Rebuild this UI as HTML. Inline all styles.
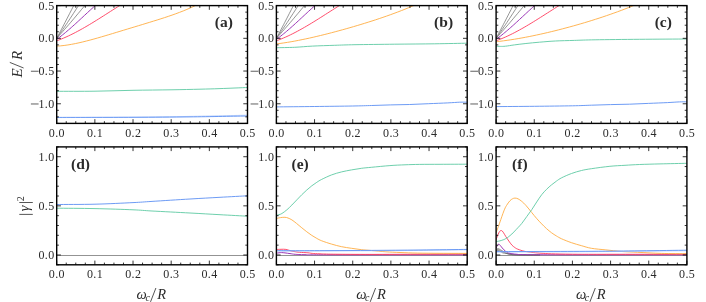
<!DOCTYPE html>
<html><head><meta charset="utf-8"><title>figure</title>
<style>html,body{margin:0;padding:0;background:#fff;}body{width:706px;height:302px;overflow:hidden;font-family:"Liberation Serif",serif;}svg{display:block;will-change:transform;opacity:0.999}svg text{font-family:"Liberation Serif",serif;}</style>
</head><body>
<svg width="706" height="302" viewBox="0 0 706 302">
<defs>
<clipPath id="c10"><rect x="56.7" y="5.6" width="190.8" height="117.80000000000001"/></clipPath>
<clipPath id="c20"><rect x="56.7" y="146.9" width="190.8" height="117.9"/></clipPath>
<clipPath id="c11"><rect x="276.4" y="5.6" width="190.8" height="117.80000000000001"/></clipPath>
<clipPath id="c21"><rect x="276.4" y="146.9" width="190.8" height="117.9"/></clipPath>
<clipPath id="c12"><rect x="496.1" y="5.6" width="190.8" height="117.80000000000001"/></clipPath>
<clipPath id="c22"><rect x="496.1" y="146.9" width="190.8" height="117.9"/></clipPath>
</defs>
<rect width="706" height="302" fill="#fff"/>
<path d="M56.70,38.40 C58.08,35.75 62.17,27.97 65.00,22.50 C67.83,17.03 71.53,9.82 73.70,5.60 C75.88,1.37 77.33,-1.44 78.05,-2.85" fill="none" stroke="#686868" stroke-width="0.7" clip-path="url(#c10)"/>
<path d="M56.70,38.40 C58.50,35.75 63.87,27.97 67.50,22.50 C71.13,17.03 75.75,9.82 78.50,5.60 C81.25,1.37 83.08,-1.44 84.00,-2.85" fill="none" stroke="#686868" stroke-width="0.7" clip-path="url(#c10)"/>
<path d="M56.70,38.40 C59.00,35.77 65.82,28.07 70.50,22.60 C75.18,17.13 81.22,9.85 84.80,5.60 C88.38,1.35 90.76,-1.48 91.95,-2.90" fill="none" stroke="#686868" stroke-width="0.7" clip-path="url(#c10)"/>
<path d="M56.70,46.15 C57.32,46.10 59.18,45.98 60.42,45.87 C61.66,45.76 62.90,45.62 64.14,45.47 C65.38,45.31 66.62,45.13 67.86,44.94 C69.10,44.75 70.34,44.54 71.58,44.32 C72.82,44.09 74.06,43.85 75.30,43.60 C76.54,43.35 77.78,43.08 79.02,42.80 C80.26,42.53 81.50,42.24 82.74,41.94 C83.98,41.64 85.22,41.33 86.46,41.01 C87.70,40.70 88.94,40.37 90.18,40.04 C91.42,39.71 92.66,39.37 93.91,39.02 C95.15,38.68 96.39,38.33 97.63,37.97 C98.87,37.62 100.11,37.26 101.35,36.90 C102.59,36.54 103.83,36.17 105.07,35.80 C106.31,35.44 107.55,35.07 108.79,34.69 C110.03,34.32 111.27,33.95 112.51,33.57 C113.75,33.20 114.99,32.82 116.23,32.45 C117.47,32.07 118.71,31.69 119.95,31.32 C121.19,30.94 122.43,30.56 123.67,30.19 C124.91,29.81 126.15,29.43 127.39,29.06 C128.63,28.68 129.87,28.31 131.11,27.93 C132.35,27.55 133.59,27.18 134.83,26.80 C136.07,26.43 137.31,26.05 138.55,25.68 C139.79,25.30 141.03,24.93 142.27,24.55 C143.51,24.18 144.75,23.80 145.99,23.42 C147.23,23.05 148.47,22.67 149.71,22.29 C150.95,21.91 152.19,21.53 153.43,21.14 C154.67,20.76 155.91,20.37 157.15,19.99 C158.39,19.60 159.63,19.20 160.87,18.81 C162.11,18.41 163.35,18.01 164.59,17.61 C165.84,17.20 167.08,16.79 168.32,16.37 C169.56,15.95 170.80,15.53 172.04,15.10 C173.28,14.66 174.52,14.22 175.76,13.77 C177.00,13.32 178.24,12.86 179.48,12.39 C180.72,11.92 181.96,11.44 183.20,10.95 C184.44,10.45 185.68,9.94 186.92,9.42 C188.16,8.90 189.40,8.36 190.64,7.81 C191.88,7.25 193.12,6.68 194.36,6.09 C195.60,5.50 196.84,4.89 198.08,4.26 C199.32,3.63 201.18,2.63 201.80,2.30" fill="none" stroke="#ffad42" stroke-width="0.9" clip-path="url(#c10)"/>
<path d="M56.70,40.79 C57.09,40.65 58.26,40.22 59.03,39.93 C59.81,39.63 60.59,39.33 61.37,39.01 C62.15,38.70 62.93,38.37 63.70,38.04 C64.48,37.71 65.26,37.37 66.04,37.02 C66.82,36.68 67.59,36.32 68.37,35.96 C69.15,35.59 69.93,35.22 70.71,34.84 C71.49,34.47 72.26,34.08 73.04,33.69 C73.82,33.30 74.60,32.90 75.38,32.49 C76.15,32.09 76.93,31.68 77.71,31.26 C78.49,30.84 79.27,30.42 80.04,29.99 C80.82,29.57 81.60,29.13 82.38,28.69 C83.16,28.26 83.94,27.81 84.71,27.36 C85.49,26.92 86.27,26.46 87.05,26.01 C87.83,25.55 88.60,25.09 89.38,24.62 C90.16,24.16 90.94,23.69 91.72,23.22 C92.50,22.75 93.27,22.27 94.05,21.79 C94.83,21.31 95.61,20.83 96.39,20.35 C97.16,19.87 97.94,19.38 98.72,18.89 C99.50,18.40 100.28,17.91 101.06,17.42 C101.83,16.93 102.61,16.44 103.39,15.94 C104.17,15.45 104.95,14.95 105.72,14.45 C106.50,13.96 107.28,13.46 108.06,12.96 C108.84,12.46 109.61,11.97 110.39,11.47 C111.17,10.97 111.95,10.47 112.73,9.97 C113.51,9.48 114.28,8.98 115.06,8.48 C115.84,7.99 116.62,7.49 117.40,7.00 C118.17,6.50 118.95,6.01 119.73,5.52 C120.51,5.03 121.29,4.54 122.07,4.05 C122.84,3.56 124.01,2.83 124.40,2.59" fill="none" stroke="#ff3b5c" stroke-width="0.9" clip-path="url(#c10)"/>
<path d="M56.70,39.33 C56.94,39.15 57.68,38.62 58.17,38.26 C58.65,37.90 59.14,37.54 59.63,37.17 C60.12,36.79 60.61,36.42 61.10,36.04 C61.59,35.66 62.07,35.27 62.56,34.88 C63.05,34.49 63.54,34.10 64.03,33.70 C64.52,33.30 65.00,32.90 65.49,32.49 C65.98,32.09 66.47,31.68 66.96,31.26 C67.45,30.85 67.94,30.43 68.42,30.01 C68.91,29.59 69.40,29.17 69.89,28.74 C70.38,28.31 70.87,27.88 71.36,27.45 C71.84,27.02 72.33,26.58 72.82,26.15 C73.31,25.71 73.80,25.27 74.29,24.83 C74.77,24.39 75.26,23.94 75.75,23.50 C76.24,23.05 76.73,22.61 77.22,22.16 C77.71,21.71 78.19,21.26 78.68,20.81 C79.17,20.36 79.66,19.91 80.15,19.46 C80.64,19.00 81.13,18.55 81.61,18.10 C82.10,17.64 82.59,17.19 83.08,16.73 C83.57,16.28 84.06,15.83 84.54,15.37 C85.03,14.92 85.52,14.46 86.01,14.01 C86.50,13.56 86.99,13.10 87.48,12.65 C87.96,12.20 88.45,11.75 88.94,11.29 C89.43,10.84 89.92,10.39 90.41,9.95 C90.90,9.50 91.38,9.05 91.87,8.61 C92.36,8.16 92.85,7.72 93.34,7.28 C93.83,6.83 94.31,6.39 94.80,5.96 C95.29,5.52 95.78,5.09 96.27,4.65 C96.76,4.22 97.25,3.79 97.73,3.36 C98.22,2.94 98.96,2.31 99.20,2.09" fill="none" stroke="#9a35b5" stroke-width="1.0" clip-path="url(#c10)"/>
<path d="M276.40,38.40 C277.78,35.75 281.87,27.97 284.70,22.50 C287.53,17.03 291.22,9.82 293.40,5.60 C295.57,1.37 297.02,-1.44 297.75,-2.85" fill="none" stroke="#686868" stroke-width="0.7" clip-path="url(#c11)"/>
<path d="M276.40,38.40 C278.20,35.75 283.57,27.97 287.20,22.50 C290.83,17.03 295.45,9.82 298.20,5.60 C300.95,1.37 302.78,-1.44 303.70,-2.85" fill="none" stroke="#686868" stroke-width="0.7" clip-path="url(#c11)"/>
<path d="M276.40,38.40 C278.70,35.77 285.52,28.07 290.20,22.60 C294.88,17.13 300.93,9.85 304.50,5.60 C308.07,1.35 310.46,-1.48 311.65,-2.90" fill="none" stroke="#686868" stroke-width="0.7" clip-path="url(#c11)"/>
<path d="M276.40,43.93 C277.01,43.85 278.85,43.62 280.07,43.46 C281.30,43.29 282.52,43.11 283.75,42.93 C284.97,42.75 286.20,42.56 287.42,42.36 C288.65,42.16 289.87,41.95 291.10,41.74 C292.32,41.52 293.55,41.30 294.77,41.08 C296.00,40.85 297.22,40.62 298.45,40.38 C299.67,40.14 300.90,39.89 302.12,39.64 C303.35,39.39 304.57,39.14 305.79,38.88 C307.02,38.61 308.24,38.35 309.47,38.08 C310.69,37.80 311.92,37.53 313.14,37.25 C314.37,36.97 315.59,36.68 316.82,36.39 C318.04,36.10 319.27,35.81 320.49,35.51 C321.72,35.21 322.94,34.91 324.17,34.61 C325.39,34.30 326.62,33.99 327.84,33.68 C329.07,33.37 330.29,33.05 331.52,32.73 C332.74,32.41 333.96,32.09 335.19,31.76 C336.41,31.44 337.64,31.11 338.86,30.77 C340.09,30.44 341.31,30.10 342.54,29.76 C343.76,29.43 344.99,29.08 346.21,28.74 C347.44,28.39 348.66,28.04 349.89,27.69 C351.11,27.34 352.34,26.98 353.56,26.63 C354.79,26.27 356.01,25.91 357.24,25.54 C358.46,25.18 359.69,24.81 360.91,24.44 C362.14,24.07 363.36,23.69 364.58,23.31 C365.81,22.93 367.03,22.55 368.26,22.17 C369.48,21.78 370.71,21.39 371.93,21.00 C373.16,20.60 374.38,20.21 375.61,19.80 C376.83,19.40 378.06,19.00 379.28,18.59 C380.51,18.18 381.73,17.76 382.96,17.34 C384.18,16.92 385.41,16.50 386.63,16.07 C387.86,15.64 389.08,15.20 390.31,14.76 C391.53,14.32 392.75,13.87 393.98,13.42 C395.20,12.97 396.43,12.51 397.65,12.05 C398.88,11.58 400.10,11.11 401.33,10.63 C402.55,10.15 403.78,9.67 405.00,9.18 C406.23,8.68 407.45,8.18 408.68,7.67 C409.90,7.17 411.13,6.65 412.35,6.13 C413.58,5.60 414.80,5.07 416.03,4.53 C417.25,3.98 419.09,3.14 419.70,2.87" fill="none" stroke="#ffad42" stroke-width="0.9" clip-path="url(#c11)"/>
<path d="M276.40,40.79 C276.79,40.65 277.96,40.22 278.73,39.93 C279.51,39.63 280.29,39.33 281.07,39.01 C281.85,38.70 282.63,38.37 283.40,38.04 C284.18,37.71 284.96,37.37 285.74,37.02 C286.52,36.68 287.29,36.32 288.07,35.96 C288.85,35.59 289.63,35.22 290.41,34.84 C291.19,34.47 291.96,34.08 292.74,33.69 C293.52,33.30 294.30,32.90 295.08,32.49 C295.85,32.09 296.63,31.68 297.41,31.26 C298.19,30.84 298.97,30.42 299.74,29.99 C300.52,29.57 301.30,29.13 302.08,28.69 C302.86,28.26 303.64,27.81 304.41,27.36 C305.19,26.92 305.97,26.46 306.75,26.01 C307.53,25.55 308.30,25.09 309.08,24.62 C309.86,24.16 310.64,23.69 311.42,23.22 C312.20,22.75 312.97,22.27 313.75,21.79 C314.53,21.31 315.31,20.83 316.09,20.35 C316.86,19.87 317.64,19.38 318.42,18.89 C319.20,18.40 319.98,17.91 320.76,17.42 C321.53,16.93 322.31,16.44 323.09,15.94 C323.87,15.45 324.65,14.95 325.42,14.45 C326.20,13.96 326.98,13.46 327.76,12.96 C328.54,12.46 329.31,11.97 330.09,11.47 C330.87,10.97 331.65,10.47 332.43,9.97 C333.21,9.48 333.98,8.98 334.76,8.48 C335.54,7.99 336.32,7.49 337.10,7.00 C337.87,6.50 338.65,6.01 339.43,5.52 C340.21,5.03 340.99,4.54 341.77,4.05 C342.54,3.56 343.71,2.83 344.10,2.59" fill="none" stroke="#ff3b5c" stroke-width="0.9" clip-path="url(#c11)"/>
<path d="M276.40,39.33 C276.64,39.15 277.38,38.62 277.87,38.26 C278.35,37.90 278.84,37.54 279.33,37.17 C279.82,36.79 280.31,36.42 280.80,36.04 C281.29,35.66 281.77,35.27 282.26,34.88 C282.75,34.49 283.24,34.10 283.73,33.70 C284.22,33.30 284.70,32.90 285.19,32.49 C285.68,32.09 286.17,31.68 286.66,31.26 C287.15,30.85 287.64,30.43 288.12,30.01 C288.61,29.59 289.10,29.17 289.59,28.74 C290.08,28.31 290.57,27.88 291.06,27.45 C291.54,27.02 292.03,26.58 292.52,26.15 C293.01,25.71 293.50,25.27 293.99,24.83 C294.47,24.39 294.96,23.94 295.45,23.50 C295.94,23.05 296.43,22.61 296.92,22.16 C297.41,21.71 297.89,21.26 298.38,20.81 C298.87,20.36 299.36,19.91 299.85,19.46 C300.34,19.00 300.83,18.55 301.31,18.10 C301.80,17.64 302.29,17.19 302.78,16.73 C303.27,16.28 303.76,15.83 304.24,15.37 C304.73,14.92 305.22,14.46 305.71,14.01 C306.20,13.56 306.69,13.10 307.18,12.65 C307.66,12.20 308.15,11.75 308.64,11.29 C309.13,10.84 309.62,10.39 310.11,9.95 C310.60,9.50 311.08,9.05 311.57,8.61 C312.06,8.16 312.55,7.72 313.04,7.28 C313.53,6.83 314.01,6.39 314.50,5.96 C314.99,5.52 315.48,5.09 315.97,4.65 C316.46,4.22 316.95,3.79 317.43,3.36 C317.92,2.94 318.66,2.31 318.90,2.09" fill="none" stroke="#9a35b5" stroke-width="1.0" clip-path="url(#c11)"/>
<path d="M496.10,38.40 C497.48,35.75 501.57,27.97 504.40,22.50 C507.23,17.03 510.93,9.82 513.10,5.60 C515.27,1.37 516.73,-1.44 517.45,-2.85" fill="none" stroke="#686868" stroke-width="0.7" clip-path="url(#c12)"/>
<path d="M496.10,38.40 C497.90,35.75 503.27,27.97 506.90,22.50 C510.53,17.03 515.15,9.82 517.90,5.60 C520.65,1.37 522.48,-1.44 523.40,-2.85" fill="none" stroke="#686868" stroke-width="0.7" clip-path="url(#c12)"/>
<path d="M496.10,38.40 C498.40,35.77 505.22,28.07 509.90,22.60 C514.58,17.13 520.62,9.85 524.20,5.60 C527.78,1.35 530.16,-1.48 531.35,-2.90" fill="none" stroke="#686868" stroke-width="0.7" clip-path="url(#c12)"/>
<path d="M496.10,41.71 C496.71,41.64 498.55,41.44 499.78,41.30 C501.01,41.15 502.23,41.00 503.46,40.84 C504.69,40.68 505.91,40.51 507.14,40.33 C508.36,40.16 509.59,39.98 510.82,39.79 C512.04,39.60 513.27,39.41 514.50,39.21 C515.72,39.01 516.95,38.81 518.18,38.60 C519.40,38.38 520.63,38.17 521.86,37.95 C523.08,37.72 524.31,37.49 525.54,37.26 C526.76,37.03 527.99,36.79 529.22,36.55 C530.44,36.30 531.67,36.06 532.89,35.80 C534.12,35.55 535.35,35.29 536.57,35.03 C537.80,34.77 539.03,34.50 540.25,34.23 C541.48,33.96 542.71,33.68 543.93,33.40 C545.16,33.12 546.39,32.84 547.61,32.55 C548.84,32.26 550.07,31.97 551.29,31.67 C552.52,31.37 553.75,31.07 554.97,30.77 C556.20,30.46 557.42,30.16 558.65,29.84 C559.88,29.53 561.10,29.21 562.33,28.89 C563.56,28.57 564.78,28.25 566.01,27.92 C567.24,27.59 568.46,27.26 569.69,26.93 C570.92,26.59 572.14,26.25 573.37,25.91 C574.60,25.57 575.82,25.22 577.05,24.87 C578.28,24.52 579.50,24.16 580.73,23.81 C581.95,23.45 583.18,23.08 584.41,22.72 C585.63,22.35 586.86,21.98 588.09,21.61 C589.31,21.23 590.54,20.86 591.77,20.47 C592.99,20.09 594.22,19.70 595.45,19.31 C596.67,18.92 597.90,18.53 599.13,18.13 C600.35,17.73 601.58,17.32 602.81,16.91 C604.03,16.50 605.26,16.09 606.48,15.67 C607.71,15.25 608.94,14.83 610.16,14.40 C611.39,13.98 612.62,13.54 613.84,13.10 C615.07,12.67 616.30,12.22 617.52,11.77 C618.75,11.32 619.98,10.87 621.20,10.41 C622.43,9.95 623.66,9.48 624.88,9.01 C626.11,8.54 627.34,8.06 628.56,7.57 C629.79,7.09 631.01,6.60 632.24,6.10 C633.47,5.60 634.69,5.10 635.92,4.59 C637.15,4.08 638.99,3.29 639.60,3.03" fill="none" stroke="#ffad42" stroke-width="0.9" clip-path="url(#c12)"/>
<path d="M496.10,40.79 C496.49,40.65 497.66,40.22 498.43,39.93 C499.21,39.63 499.99,39.33 500.77,39.01 C501.55,38.70 502.33,38.37 503.10,38.04 C503.88,37.71 504.66,37.37 505.44,37.02 C506.22,36.68 506.99,36.32 507.77,35.96 C508.55,35.59 509.33,35.22 510.11,34.84 C510.89,34.47 511.66,34.08 512.44,33.69 C513.22,33.30 514.00,32.90 514.78,32.49 C515.55,32.09 516.33,31.68 517.11,31.26 C517.89,30.84 518.67,30.42 519.44,29.99 C520.22,29.57 521.00,29.13 521.78,28.69 C522.56,28.26 523.34,27.81 524.11,27.36 C524.89,26.92 525.67,26.46 526.45,26.01 C527.23,25.55 528.00,25.09 528.78,24.62 C529.56,24.16 530.34,23.69 531.12,23.22 C531.90,22.75 532.67,22.27 533.45,21.79 C534.23,21.31 535.01,20.83 535.79,20.35 C536.56,19.87 537.34,19.38 538.12,18.89 C538.90,18.40 539.68,17.91 540.46,17.42 C541.23,16.93 542.01,16.44 542.79,15.94 C543.57,15.45 544.35,14.95 545.12,14.45 C545.90,13.96 546.68,13.46 547.46,12.96 C548.24,12.46 549.01,11.97 549.79,11.47 C550.57,10.97 551.35,10.47 552.13,9.97 C552.91,9.48 553.68,8.98 554.46,8.48 C555.24,7.99 556.02,7.49 556.80,7.00 C557.57,6.50 558.35,6.01 559.13,5.52 C559.91,5.03 560.69,4.54 561.47,4.05 C562.24,3.56 563.41,2.83 563.80,2.59" fill="none" stroke="#ff3b5c" stroke-width="0.9" clip-path="url(#c12)"/>
<path d="M496.10,39.33 C496.34,39.15 497.08,38.62 497.57,38.26 C498.05,37.90 498.54,37.54 499.03,37.17 C499.52,36.79 500.01,36.42 500.50,36.04 C500.99,35.66 501.47,35.27 501.96,34.88 C502.45,34.49 502.94,34.10 503.43,33.70 C503.92,33.30 504.40,32.90 504.89,32.49 C505.38,32.09 505.87,31.68 506.36,31.26 C506.85,30.85 507.34,30.43 507.82,30.01 C508.31,29.59 508.80,29.17 509.29,28.74 C509.78,28.31 510.27,27.88 510.76,27.45 C511.24,27.02 511.73,26.58 512.22,26.15 C512.71,25.71 513.20,25.27 513.69,24.83 C514.17,24.39 514.66,23.94 515.15,23.50 C515.64,23.05 516.13,22.61 516.62,22.16 C517.11,21.71 517.59,21.26 518.08,20.81 C518.57,20.36 519.06,19.91 519.55,19.46 C520.04,19.00 520.53,18.55 521.01,18.10 C521.50,17.64 521.99,17.19 522.48,16.73 C522.97,16.28 523.46,15.83 523.94,15.37 C524.43,14.92 524.92,14.46 525.41,14.01 C525.90,13.56 526.39,13.10 526.88,12.65 C527.36,12.20 527.85,11.75 528.34,11.29 C528.83,10.84 529.32,10.39 529.81,9.95 C530.30,9.50 530.78,9.05 531.27,8.61 C531.76,8.16 532.25,7.72 532.74,7.28 C533.23,6.83 533.71,6.39 534.20,5.96 C534.69,5.52 535.18,5.09 535.67,4.65 C536.16,4.22 536.65,3.79 537.13,3.36 C537.62,2.94 538.36,2.31 538.60,2.09" fill="none" stroke="#9a35b5" stroke-width="1.0" clip-path="url(#c12)"/>
<path d="M56.70,91.30 C63.08,91.28 82.28,91.37 95.00,91.20 C107.72,91.03 120.33,90.53 133.00,90.30 C145.67,90.07 159.83,89.98 171.00,89.80 C182.17,89.62 191.83,89.40 200.00,89.20 C208.17,89.00 212.08,88.88 220.00,88.60 C227.92,88.32 242.92,87.68 247.50,87.50" fill="none" stroke="#5ec9a3" stroke-width="0.9" clip-path="url(#c10)"/>
<path d="M56.70,117.60 C69.42,117.53 110.78,117.40 133.00,117.20 C155.22,117.00 170.92,116.73 190.00,116.40 C209.08,116.07 237.92,115.40 247.50,115.20" fill="none" stroke="#b4cdfb" stroke-width="0.9" clip-path="url(#c10)"/>
<path d="M56.70,117.40 C69.42,117.38 110.78,117.38 133.00,117.30 C155.22,117.22 170.92,117.12 190.00,116.90 C209.08,116.68 237.92,116.15 247.50,116.00" fill="none" stroke="#6596f3" stroke-width="0.95" clip-path="url(#c10)"/>
<path d="M276.40,47.70 C279.45,47.63 288.68,47.57 294.70,47.30 C300.72,47.03 305.83,46.43 312.50,46.10 C319.17,45.77 327.62,45.53 334.70,45.30 C341.78,45.07 345.00,44.88 355.00,44.70 C365.00,44.52 381.42,44.35 394.70,44.20 C407.98,44.05 422.62,43.97 434.70,43.80 C446.78,43.63 461.78,43.30 467.20,43.20" fill="none" stroke="#5ec9a3" stroke-width="0.9" clip-path="url(#c11)"/>
<path d="M276.40,106.90 C282.78,106.83 301.98,106.65 314.70,106.50 C327.42,106.35 343.20,106.17 352.70,106.00 C362.20,105.83 365.37,105.68 371.70,105.50 C378.03,105.32 384.37,105.07 390.70,104.90 C397.03,104.73 403.37,104.70 409.70,104.50 C416.03,104.30 422.37,103.97 428.70,103.70 C435.03,103.43 442.53,103.15 447.70,102.90 C452.87,102.65 456.45,102.32 459.70,102.20 C462.95,102.08 465.95,102.20 467.20,102.20" fill="none" stroke="#6596f3" stroke-width="0.95" clip-path="url(#c11)"/>
<path d="M496.10,46.20 C496.82,46.23 498.85,46.40 500.40,46.40 C501.95,46.40 503.07,46.45 505.40,46.20 C507.73,45.95 510.98,45.35 514.40,44.90 C517.82,44.45 521.73,43.95 525.90,43.50 C530.07,43.05 534.50,42.62 539.40,42.20 C544.30,41.78 549.47,41.30 555.30,41.00 C561.13,40.70 567.77,40.60 574.40,40.40 C581.03,40.20 584.27,39.98 595.10,39.80 C605.93,39.62 624.10,39.43 639.40,39.30 C654.70,39.17 678.98,39.05 686.90,39.00" fill="none" stroke="#5ec9a3" stroke-width="0.9" clip-path="url(#c12)"/>
<path d="M496.10,106.60 C502.48,106.55 521.68,106.43 534.40,106.30 C547.12,106.17 562.90,105.98 572.40,105.80 C581.90,105.62 585.07,105.40 591.40,105.20 C597.73,105.00 604.07,104.77 610.40,104.60 C616.73,104.43 623.07,104.40 629.40,104.20 C635.73,104.00 642.07,103.67 648.40,103.40 C654.73,103.13 662.23,102.85 667.40,102.60 C672.57,102.35 676.15,102.03 679.40,101.90 C682.65,101.77 685.65,101.82 686.90,101.80" fill="none" stroke="#6596f3" stroke-width="0.95" clip-path="url(#c12)"/>
<line x1="56.7" x2="247.5" y1="255.5" y2="255.5" stroke="#777" stroke-width="0.8"/>
<line x1="276.4" x2="467.2" y1="255.5" y2="255.5" stroke="#777" stroke-width="0.8"/>
<line x1="496.1" x2="686.9000000000001" y1="255.5" y2="255.5" stroke="#777" stroke-width="0.8"/>
<path d="M56.70,208.20 C63.08,208.27 82.28,208.33 95.00,208.60 C107.72,208.87 123.50,209.40 133.00,209.80 C142.50,210.20 142.50,210.47 152.00,211.00 C161.50,211.53 178.67,212.38 190.00,213.00 C201.33,213.62 210.42,214.17 220.00,214.70 C229.58,215.23 242.92,215.95 247.50,216.20" fill="none" stroke="#5ec9a3" stroke-width="0.9" clip-path="url(#c20)"/>
<path d="M56.70,204.50 C63.08,204.45 82.28,204.52 95.00,204.20 C107.72,203.88 123.50,203.07 133.00,202.60 C142.50,202.13 142.50,202.00 152.00,201.40 C161.50,200.80 178.67,199.68 190.00,199.00 C201.33,198.32 210.42,197.83 220.00,197.30 C229.58,196.77 242.92,196.05 247.50,195.80" fill="none" stroke="#6596f3" stroke-width="0.95" clip-path="url(#c20)"/>
<path d="M276.40,253.20 C276.83,253.13 278.13,252.90 279.00,252.80 C279.87,252.70 280.60,252.58 281.60,252.60 C282.60,252.62 283.60,252.73 285.00,252.90 C286.40,253.07 288.30,253.37 290.00,253.60 C291.70,253.83 292.70,254.12 295.20,254.30 C297.70,254.48 299.20,254.62 305.00,254.70 C310.80,254.78 302.97,254.78 330.00,254.80 C357.03,254.82 444.33,254.80 467.20,254.80" fill="none" stroke="#9a35b5" stroke-width="1.0" clip-path="url(#c21)"/>
<path d="M276.40,249.50 C277.17,249.47 279.42,249.32 281.00,249.30 C282.58,249.28 284.23,249.13 285.90,249.40 C287.57,249.67 289.48,250.52 291.00,250.90 C292.52,251.28 293.58,251.47 295.00,251.70 C296.42,251.93 297.33,252.12 299.50,252.30 C301.67,252.48 305.88,252.62 308.00,252.80 C310.12,252.98 310.20,253.23 312.20,253.40 C314.20,253.57 316.45,253.67 320.00,253.80 C323.55,253.93 325.00,254.10 333.50,254.20 C342.00,254.30 356.58,254.40 371.00,254.40 C385.42,254.40 403.97,254.27 420.00,254.20 C436.03,254.13 459.33,254.03 467.20,254.00" fill="none" stroke="#ff3b5c" stroke-width="0.9" clip-path="url(#c21)"/>
<path d="M276.40,218.50 C277.08,218.35 279.08,217.80 280.50,217.60 C281.92,217.40 283.65,217.23 284.90,217.30 C286.15,217.37 286.83,217.57 288.00,218.00 C289.17,218.43 290.48,219.00 291.90,219.90 C293.32,220.80 294.85,222.08 296.50,223.40 C298.15,224.72 300.08,226.40 301.80,227.80 C303.52,229.20 305.13,230.53 306.80,231.80 C308.47,233.07 310.13,234.30 311.80,235.40 C313.47,236.50 315.15,237.50 316.80,238.40 C318.45,239.30 319.23,239.85 321.70,240.80 C324.17,241.75 328.28,243.12 331.60,244.10 C334.92,245.08 338.28,246.00 341.60,246.70 C344.92,247.40 348.18,247.80 351.50,248.30 C354.82,248.80 358.18,249.33 361.50,249.70 C364.82,250.07 367.33,250.15 371.40,250.50 C375.47,250.85 381.13,251.47 385.90,251.80 C390.67,252.13 394.70,252.28 400.00,252.50 C405.30,252.72 411.03,252.97 417.70,253.10 C424.37,253.23 431.75,253.25 440.00,253.30 C448.25,253.35 462.67,253.38 467.20,253.40" fill="none" stroke="#ffad42" stroke-width="0.9" clip-path="url(#c21)"/>
<path d="M276.40,251.00 C285.33,250.98 309.40,250.97 330.00,250.90 C350.60,250.83 377.13,250.78 400.00,250.60 C422.87,250.42 456.00,249.93 467.20,249.80" fill="none" stroke="#b4cdfb" stroke-width="0.9" clip-path="url(#c21)"/>
<path d="M276.40,250.60 C278.98,250.62 282.97,250.70 291.90,250.70 C300.83,250.70 316.75,250.65 330.00,250.60 C343.25,250.55 356.40,250.50 371.40,250.40 C386.40,250.30 404.03,250.17 420.00,250.00 C435.97,249.83 459.33,249.50 467.20,249.40" fill="none" stroke="#6596f3" stroke-width="0.95" clip-path="url(#c21)"/>
<path d="M276.40,215.30 C276.83,215.20 278.08,215.00 279.00,214.70 C279.92,214.40 280.58,214.32 281.90,213.50 C283.22,212.68 285.23,211.22 286.90,209.80 C288.57,208.38 290.23,206.67 291.90,205.00 C293.57,203.33 295.25,201.52 296.90,199.80 C298.55,198.08 300.15,196.33 301.80,194.70 C303.45,193.07 305.13,191.48 306.80,190.00 C308.47,188.52 310.13,187.08 311.80,185.80 C313.47,184.52 315.15,183.37 316.80,182.30 C318.45,181.23 319.23,180.63 321.70,179.40 C324.17,178.17 328.28,176.15 331.60,174.90 C334.92,173.65 338.28,172.73 341.60,171.90 C344.92,171.07 348.18,170.50 351.50,169.90 C354.82,169.30 358.18,168.73 361.50,168.30 C364.82,167.87 366.67,167.75 371.40,167.30 C376.13,166.85 384.30,166.02 389.90,165.60 C395.50,165.18 400.03,165.00 405.00,164.80 C409.97,164.60 413.87,164.48 419.70,164.40 C425.53,164.32 432.08,164.33 440.00,164.30 C447.92,164.27 462.67,164.22 467.20,164.20" fill="none" stroke="#5ec9a3" stroke-width="0.9" clip-path="url(#c21)"/>
<path d="M496.10,249.20 C496.45,249.10 497.47,248.50 498.20,248.60 C498.93,248.70 499.70,249.37 500.50,249.80 C501.30,250.23 502.08,250.63 503.00,251.20 C503.92,251.77 505.00,252.73 506.00,253.20 C507.00,253.67 508.00,253.78 509.00,254.00 C510.00,254.22 510.17,254.35 512.00,254.50 C513.83,254.65 515.33,254.82 520.00,254.90 C524.67,254.98 536.67,254.98 540.00,255.00" fill="none" stroke="#686868" stroke-width="0.7" clip-path="url(#c22)"/>
<path d="M496.10,250.00 C496.45,249.93 497.47,249.47 498.20,249.60 C498.93,249.73 499.70,250.37 500.50,250.80 C501.30,251.23 502.08,251.80 503.00,252.20 C503.92,252.60 505.00,252.90 506.00,253.20 C507.00,253.50 508.00,253.78 509.00,254.00 C510.00,254.22 510.17,254.35 512.00,254.50 C513.83,254.65 515.33,254.82 520.00,254.90 C524.67,254.98 536.67,254.98 540.00,255.00" fill="none" stroke="#686868" stroke-width="0.7" clip-path="url(#c22)"/>
<path d="M496.10,250.60 C496.45,250.57 497.47,250.23 498.20,250.40 C498.93,250.57 499.70,251.17 500.50,251.60 C501.30,252.03 502.08,252.73 503.00,253.00 C503.92,253.27 505.00,253.03 506.00,253.20 C507.00,253.37 508.00,253.78 509.00,254.00 C510.00,254.22 510.17,254.35 512.00,254.50 C513.83,254.65 515.33,254.82 520.00,254.90 C524.67,254.98 536.67,254.98 540.00,255.00" fill="none" stroke="#686868" stroke-width="0.7" clip-path="url(#c22)"/>
<path d="M496.10,248.00 C496.30,247.60 496.85,246.23 497.30,245.60 C497.75,244.97 498.28,244.20 498.80,244.20 C499.32,244.20 499.82,244.97 500.40,245.60 C500.98,246.23 501.70,247.28 502.30,248.00 C502.90,248.72 503.40,249.30 504.00,249.90 C504.60,250.50 505.15,251.10 505.90,251.60 C506.65,252.10 507.50,252.55 508.50,252.90 C509.50,253.25 510.48,253.47 511.90,253.70 C513.32,253.93 515.02,254.15 517.00,254.30 C518.98,254.45 516.63,254.52 523.80,254.60 C530.97,254.68 532.82,254.77 560.00,254.80 C587.18,254.83 665.75,254.80 686.90,254.80" fill="none" stroke="#9a35b5" stroke-width="1.0" clip-path="url(#c22)"/>
<path d="M496.10,239.70 C496.42,238.83 497.38,235.90 498.00,234.50 C498.62,233.10 499.23,231.97 499.80,231.30 C500.37,230.63 500.83,230.35 501.40,230.50 C501.97,230.65 502.45,231.17 503.20,232.20 C503.95,233.23 504.97,235.23 505.90,236.70 C506.83,238.17 507.80,239.60 508.80,241.00 C509.80,242.40 510.90,244.02 511.90,245.10 C512.90,246.18 513.82,246.82 514.80,247.50 C515.78,248.18 516.10,248.55 517.80,249.20 C519.50,249.85 522.02,250.80 525.00,251.40 C527.98,252.00 532.55,252.47 535.70,252.80 C538.85,253.13 541.25,253.23 543.90,253.40 C546.55,253.57 547.08,253.67 551.60,253.80 C556.12,253.93 562.93,254.12 571.00,254.20 C579.07,254.28 580.68,254.30 600.00,254.30 C619.32,254.30 672.42,254.22 686.90,254.20" fill="none" stroke="#ff3b5c" stroke-width="0.9" clip-path="url(#c22)"/>
<path d="M496.10,232.80 C496.42,231.92 497.35,229.32 498.00,227.50 C498.65,225.68 499.02,224.67 500.00,221.90 C500.98,219.13 502.82,213.63 503.90,210.90 C504.98,208.17 505.50,207.18 506.50,205.50 C507.50,203.82 508.90,201.92 509.90,200.80 C510.90,199.68 511.67,199.25 512.50,198.80 C513.33,198.35 513.98,198.10 514.90,198.10 C515.82,198.10 516.85,198.25 518.00,198.80 C519.15,199.35 520.47,200.28 521.80,201.40 C523.13,202.52 524.33,203.63 526.00,205.50 C527.67,207.37 530.05,210.47 531.80,212.60 C533.55,214.73 534.85,216.42 536.50,218.30 C538.15,220.18 540.03,222.18 541.70,223.90 C543.37,225.62 544.85,227.12 546.50,228.60 C548.15,230.08 549.93,231.57 551.60,232.80 C553.27,234.03 554.83,235.00 556.50,236.00 C558.17,237.00 559.10,237.68 561.60,238.80 C564.10,239.92 568.18,241.55 571.50,242.70 C574.82,243.85 578.18,244.77 581.50,245.70 C584.82,246.63 587.33,247.60 591.40,248.30 C595.47,249.00 600.83,249.37 605.90,249.90 C610.97,250.43 616.50,251.10 621.80,251.50 C627.10,251.90 631.08,251.98 637.70,252.30 C644.32,252.62 653.30,253.17 661.50,253.40 C669.70,253.63 682.67,253.65 686.90,253.70" fill="none" stroke="#ffad42" stroke-width="0.9" clip-path="url(#c22)"/>
<path d="M496.10,252.00 C511.75,251.95 558.20,251.92 590.00,251.70 C621.80,251.48 670.75,250.87 686.90,250.70" fill="none" stroke="#b4cdfb" stroke-width="0.9" clip-path="url(#c22)"/>
<path d="M496.10,251.60 C511.75,251.55 566.02,251.43 590.00,251.30 C613.98,251.17 623.85,250.98 640.00,250.80 C656.15,250.62 679.08,250.30 686.90,250.20" fill="none" stroke="#6596f3" stroke-width="0.95" clip-path="url(#c22)"/>
<path d="M496.10,241.50 C496.50,241.45 497.65,241.37 498.50,241.20 C499.35,241.03 500.30,240.77 501.20,240.50 C502.10,240.23 503.12,239.93 503.90,239.60 C504.68,239.27 505.08,239.00 505.90,238.50 C506.72,238.00 507.80,237.35 508.80,236.60 C509.80,235.85 510.90,234.93 511.90,234.00 C512.90,233.07 513.82,232.03 514.80,231.00 C515.78,229.97 516.63,229.07 517.80,227.80 C518.97,226.53 520.30,225.28 521.80,223.40 C523.30,221.52 525.13,218.80 526.80,216.50 C528.47,214.20 530.15,212.02 531.80,209.60 C533.45,207.18 535.05,204.48 536.70,202.00 C538.35,199.52 540.05,196.82 541.70,194.70 C543.35,192.58 544.95,190.95 546.60,189.30 C548.25,187.65 549.93,186.18 551.60,184.80 C553.27,183.42 554.93,182.17 556.60,181.00 C558.27,179.83 559.12,179.05 561.60,177.80 C564.08,176.55 568.18,174.72 571.50,173.50 C574.82,172.28 578.18,171.30 581.50,170.50 C584.82,169.70 586.67,169.40 591.40,168.70 C596.13,168.00 604.30,166.87 609.90,166.30 C615.50,165.73 620.03,165.60 625.00,165.30 C629.97,165.00 633.87,164.73 639.70,164.50 C645.53,164.27 652.13,164.10 660.00,163.90 C667.87,163.70 682.42,163.40 686.90,163.30" fill="none" stroke="#5ec9a3" stroke-width="0.9" clip-path="url(#c22)"/>
<path d="M56.70,123.4v-4.2M56.70,5.6v4.2M66.24,123.4v-2.2M66.24,5.6v2.2M75.78,123.4v-2.2M75.78,5.6v2.2M85.32,123.4v-2.2M85.32,5.6v2.2M94.86,123.4v-4.2M94.86,5.6v4.2M104.40,123.4v-2.2M104.40,5.6v2.2M113.94,123.4v-2.2M113.94,5.6v2.2M123.48,123.4v-2.2M123.48,5.6v2.2M133.02,123.4v-4.2M133.02,5.6v4.2M142.56,123.4v-2.2M142.56,5.6v2.2M152.10,123.4v-2.2M152.10,5.6v2.2M161.64,123.4v-2.2M161.64,5.6v2.2M171.18,123.4v-4.2M171.18,5.6v4.2M180.72,123.4v-2.2M180.72,5.6v2.2M190.26,123.4v-2.2M190.26,5.6v2.2M199.80,123.4v-2.2M199.80,5.6v2.2M209.34,123.4v-4.2M209.34,5.6v4.2M218.88,123.4v-2.2M218.88,5.6v2.2M228.42,123.4v-2.2M228.42,5.6v2.2M237.96,123.4v-2.2M237.96,5.6v2.2M247.50,123.4v-4.2M247.50,5.6v4.2M56.7,5.60h4.2M247.5,5.60h-4.2M56.7,38.32h4.2M247.5,38.32h-4.2M56.7,71.04h4.2M247.5,71.04h-4.2M56.7,103.77h4.2M247.5,103.77h-4.2M56.7,12.14h2.2M247.5,12.14h-2.2M56.7,18.69h2.2M247.5,18.69h-2.2M56.7,25.23h2.2M247.5,25.23h-2.2M56.7,31.78h2.2M247.5,31.78h-2.2M56.7,44.87h2.2M247.5,44.87h-2.2M56.7,51.41h2.2M247.5,51.41h-2.2M56.7,57.96h2.2M247.5,57.96h-2.2M56.7,64.50h2.2M247.5,64.50h-2.2M56.7,77.59h2.2M247.5,77.59h-2.2M56.7,84.13h2.2M247.5,84.13h-2.2M56.7,90.68h2.2M247.5,90.68h-2.2M56.7,97.22h2.2M247.5,97.22h-2.2M56.7,110.31h2.2M247.5,110.31h-2.2M56.7,116.86h2.2M247.5,116.86h-2.2M56.7,123.40h2.2M247.5,123.40h-2.2" stroke="#000" stroke-width="0.8" fill="none"/>
<rect x="56.7" y="5.6" width="190.8" height="117.80" fill="none" stroke="#000" stroke-width="1.4"/>
<path d="M56.70,264.8v-4.2M56.70,146.9v4.2M66.24,264.8v-2.2M66.24,146.9v2.2M75.78,264.8v-2.2M75.78,146.9v2.2M85.32,264.8v-2.2M85.32,146.9v2.2M94.86,264.8v-4.2M94.86,146.9v4.2M104.40,264.8v-2.2M104.40,146.9v2.2M113.94,264.8v-2.2M113.94,146.9v2.2M123.48,264.8v-2.2M123.48,146.9v2.2M133.02,264.8v-4.2M133.02,146.9v4.2M142.56,264.8v-2.2M142.56,146.9v2.2M152.10,264.8v-2.2M152.10,146.9v2.2M161.64,264.8v-2.2M161.64,146.9v2.2M171.18,264.8v-4.2M171.18,146.9v4.2M180.72,264.8v-2.2M180.72,146.9v2.2M190.26,264.8v-2.2M190.26,146.9v2.2M199.80,264.8v-2.2M199.80,146.9v2.2M209.34,264.8v-4.2M209.34,146.9v4.2M218.88,264.8v-2.2M218.88,146.9v2.2M228.42,264.8v-2.2M228.42,146.9v2.2M237.96,264.8v-2.2M237.96,146.9v2.2M247.50,264.8v-4.2M247.50,146.9v4.2M56.7,254.98h4.2M247.5,254.98h-4.2M56.7,205.85h4.2M247.5,205.85h-4.2M56.7,156.72h4.2M247.5,156.72h-4.2M56.7,264.80h2.2M247.5,264.80h-2.2M56.7,245.15h2.2M247.5,245.15h-2.2M56.7,235.32h2.2M247.5,235.32h-2.2M56.7,225.50h2.2M247.5,225.50h-2.2M56.7,215.68h2.2M247.5,215.68h-2.2M56.7,196.03h2.2M247.5,196.03h-2.2M56.7,186.20h2.2M247.5,186.20h-2.2M56.7,176.38h2.2M247.5,176.38h-2.2M56.7,166.55h2.2M247.5,166.55h-2.2M56.7,146.90h2.2M247.5,146.90h-2.2" stroke="#000" stroke-width="0.8" fill="none"/>
<rect x="56.7" y="146.9" width="190.8" height="117.90" fill="none" stroke="#000" stroke-width="1.4"/>
<path d="M276.40,123.4v-4.2M276.40,5.6v4.2M285.94,123.4v-2.2M285.94,5.6v2.2M295.48,123.4v-2.2M295.48,5.6v2.2M305.02,123.4v-2.2M305.02,5.6v2.2M314.56,123.4v-4.2M314.56,5.6v4.2M324.10,123.4v-2.2M324.10,5.6v2.2M333.64,123.4v-2.2M333.64,5.6v2.2M343.18,123.4v-2.2M343.18,5.6v2.2M352.72,123.4v-4.2M352.72,5.6v4.2M362.26,123.4v-2.2M362.26,5.6v2.2M371.80,123.4v-2.2M371.80,5.6v2.2M381.34,123.4v-2.2M381.34,5.6v2.2M390.88,123.4v-4.2M390.88,5.6v4.2M400.42,123.4v-2.2M400.42,5.6v2.2M409.96,123.4v-2.2M409.96,5.6v2.2M419.50,123.4v-2.2M419.50,5.6v2.2M429.04,123.4v-4.2M429.04,5.6v4.2M438.58,123.4v-2.2M438.58,5.6v2.2M448.12,123.4v-2.2M448.12,5.6v2.2M457.66,123.4v-2.2M457.66,5.6v2.2M467.20,123.4v-4.2M467.20,5.6v4.2M276.4,5.60h4.2M467.2,5.60h-4.2M276.4,38.32h4.2M467.2,38.32h-4.2M276.4,71.04h4.2M467.2,71.04h-4.2M276.4,103.77h4.2M467.2,103.77h-4.2M276.4,12.14h2.2M467.2,12.14h-2.2M276.4,18.69h2.2M467.2,18.69h-2.2M276.4,25.23h2.2M467.2,25.23h-2.2M276.4,31.78h2.2M467.2,31.78h-2.2M276.4,44.87h2.2M467.2,44.87h-2.2M276.4,51.41h2.2M467.2,51.41h-2.2M276.4,57.96h2.2M467.2,57.96h-2.2M276.4,64.50h2.2M467.2,64.50h-2.2M276.4,77.59h2.2M467.2,77.59h-2.2M276.4,84.13h2.2M467.2,84.13h-2.2M276.4,90.68h2.2M467.2,90.68h-2.2M276.4,97.22h2.2M467.2,97.22h-2.2M276.4,110.31h2.2M467.2,110.31h-2.2M276.4,116.86h2.2M467.2,116.86h-2.2M276.4,123.40h2.2M467.2,123.40h-2.2" stroke="#000" stroke-width="0.8" fill="none"/>
<rect x="276.4" y="5.6" width="190.8" height="117.80" fill="none" stroke="#000" stroke-width="1.4"/>
<path d="M276.40,264.8v-4.2M276.40,146.9v4.2M285.94,264.8v-2.2M285.94,146.9v2.2M295.48,264.8v-2.2M295.48,146.9v2.2M305.02,264.8v-2.2M305.02,146.9v2.2M314.56,264.8v-4.2M314.56,146.9v4.2M324.10,264.8v-2.2M324.10,146.9v2.2M333.64,264.8v-2.2M333.64,146.9v2.2M343.18,264.8v-2.2M343.18,146.9v2.2M352.72,264.8v-4.2M352.72,146.9v4.2M362.26,264.8v-2.2M362.26,146.9v2.2M371.80,264.8v-2.2M371.80,146.9v2.2M381.34,264.8v-2.2M381.34,146.9v2.2M390.88,264.8v-4.2M390.88,146.9v4.2M400.42,264.8v-2.2M400.42,146.9v2.2M409.96,264.8v-2.2M409.96,146.9v2.2M419.50,264.8v-2.2M419.50,146.9v2.2M429.04,264.8v-4.2M429.04,146.9v4.2M438.58,264.8v-2.2M438.58,146.9v2.2M448.12,264.8v-2.2M448.12,146.9v2.2M457.66,264.8v-2.2M457.66,146.9v2.2M467.20,264.8v-4.2M467.20,146.9v4.2M276.4,254.98h4.2M467.2,254.98h-4.2M276.4,205.85h4.2M467.2,205.85h-4.2M276.4,156.72h4.2M467.2,156.72h-4.2M276.4,264.80h2.2M467.2,264.80h-2.2M276.4,245.15h2.2M467.2,245.15h-2.2M276.4,235.32h2.2M467.2,235.32h-2.2M276.4,225.50h2.2M467.2,225.50h-2.2M276.4,215.68h2.2M467.2,215.68h-2.2M276.4,196.03h2.2M467.2,196.03h-2.2M276.4,186.20h2.2M467.2,186.20h-2.2M276.4,176.38h2.2M467.2,176.38h-2.2M276.4,166.55h2.2M467.2,166.55h-2.2M276.4,146.90h2.2M467.2,146.90h-2.2" stroke="#000" stroke-width="0.8" fill="none"/>
<rect x="276.4" y="146.9" width="190.8" height="117.90" fill="none" stroke="#000" stroke-width="1.4"/>
<path d="M496.10,123.4v-4.2M496.10,5.6v4.2M505.64,123.4v-2.2M505.64,5.6v2.2M515.18,123.4v-2.2M515.18,5.6v2.2M524.72,123.4v-2.2M524.72,5.6v2.2M534.26,123.4v-4.2M534.26,5.6v4.2M543.80,123.4v-2.2M543.80,5.6v2.2M553.34,123.4v-2.2M553.34,5.6v2.2M562.88,123.4v-2.2M562.88,5.6v2.2M572.42,123.4v-4.2M572.42,5.6v4.2M581.96,123.4v-2.2M581.96,5.6v2.2M591.50,123.4v-2.2M591.50,5.6v2.2M601.04,123.4v-2.2M601.04,5.6v2.2M610.58,123.4v-4.2M610.58,5.6v4.2M620.12,123.4v-2.2M620.12,5.6v2.2M629.66,123.4v-2.2M629.66,5.6v2.2M639.20,123.4v-2.2M639.20,5.6v2.2M648.74,123.4v-4.2M648.74,5.6v4.2M658.28,123.4v-2.2M658.28,5.6v2.2M667.82,123.4v-2.2M667.82,5.6v2.2M677.36,123.4v-2.2M677.36,5.6v2.2M686.90,123.4v-4.2M686.90,5.6v4.2M496.1,5.60h4.2M686.9000000000001,5.60h-4.2M496.1,38.32h4.2M686.9000000000001,38.32h-4.2M496.1,71.04h4.2M686.9000000000001,71.04h-4.2M496.1,103.77h4.2M686.9000000000001,103.77h-4.2M496.1,12.14h2.2M686.9000000000001,12.14h-2.2M496.1,18.69h2.2M686.9000000000001,18.69h-2.2M496.1,25.23h2.2M686.9000000000001,25.23h-2.2M496.1,31.78h2.2M686.9000000000001,31.78h-2.2M496.1,44.87h2.2M686.9000000000001,44.87h-2.2M496.1,51.41h2.2M686.9000000000001,51.41h-2.2M496.1,57.96h2.2M686.9000000000001,57.96h-2.2M496.1,64.50h2.2M686.9000000000001,64.50h-2.2M496.1,77.59h2.2M686.9000000000001,77.59h-2.2M496.1,84.13h2.2M686.9000000000001,84.13h-2.2M496.1,90.68h2.2M686.9000000000001,90.68h-2.2M496.1,97.22h2.2M686.9000000000001,97.22h-2.2M496.1,110.31h2.2M686.9000000000001,110.31h-2.2M496.1,116.86h2.2M686.9000000000001,116.86h-2.2M496.1,123.40h2.2M686.9000000000001,123.40h-2.2" stroke="#000" stroke-width="0.8" fill="none"/>
<rect x="496.1" y="5.6" width="190.8" height="117.80" fill="none" stroke="#000" stroke-width="1.4"/>
<path d="M496.10,264.8v-4.2M496.10,146.9v4.2M505.64,264.8v-2.2M505.64,146.9v2.2M515.18,264.8v-2.2M515.18,146.9v2.2M524.72,264.8v-2.2M524.72,146.9v2.2M534.26,264.8v-4.2M534.26,146.9v4.2M543.80,264.8v-2.2M543.80,146.9v2.2M553.34,264.8v-2.2M553.34,146.9v2.2M562.88,264.8v-2.2M562.88,146.9v2.2M572.42,264.8v-4.2M572.42,146.9v4.2M581.96,264.8v-2.2M581.96,146.9v2.2M591.50,264.8v-2.2M591.50,146.9v2.2M601.04,264.8v-2.2M601.04,146.9v2.2M610.58,264.8v-4.2M610.58,146.9v4.2M620.12,264.8v-2.2M620.12,146.9v2.2M629.66,264.8v-2.2M629.66,146.9v2.2M639.20,264.8v-2.2M639.20,146.9v2.2M648.74,264.8v-4.2M648.74,146.9v4.2M658.28,264.8v-2.2M658.28,146.9v2.2M667.82,264.8v-2.2M667.82,146.9v2.2M677.36,264.8v-2.2M677.36,146.9v2.2M686.90,264.8v-4.2M686.90,146.9v4.2M496.1,254.98h4.2M686.9000000000001,254.98h-4.2M496.1,205.85h4.2M686.9000000000001,205.85h-4.2M496.1,156.72h4.2M686.9000000000001,156.72h-4.2M496.1,264.80h2.2M686.9000000000001,264.80h-2.2M496.1,245.15h2.2M686.9000000000001,245.15h-2.2M496.1,235.32h2.2M686.9000000000001,235.32h-2.2M496.1,225.50h2.2M686.9000000000001,225.50h-2.2M496.1,215.68h2.2M686.9000000000001,215.68h-2.2M496.1,196.03h2.2M686.9000000000001,196.03h-2.2M496.1,186.20h2.2M686.9000000000001,186.20h-2.2M496.1,176.38h2.2M686.9000000000001,176.38h-2.2M496.1,166.55h2.2M686.9000000000001,166.55h-2.2M496.1,146.90h2.2M686.9000000000001,146.90h-2.2" stroke="#000" stroke-width="0.8" fill="none"/>
<rect x="496.1" y="146.9" width="190.8" height="117.90" fill="none" stroke="#000" stroke-width="1.4"/>
<text x="56.90" y="136.90" font-size="12" text-anchor="middle" fill="#2b2b2b" letter-spacing="0.35">0.0</text>
<text x="56.90" y="278.30" font-size="12" text-anchor="middle" fill="#2b2b2b" letter-spacing="0.35">0.0</text>
<text x="95.06" y="136.90" font-size="12" text-anchor="middle" fill="#2b2b2b" letter-spacing="0.35">0.1</text>
<text x="95.06" y="278.30" font-size="12" text-anchor="middle" fill="#2b2b2b" letter-spacing="0.35">0.1</text>
<text x="133.22" y="136.90" font-size="12" text-anchor="middle" fill="#2b2b2b" letter-spacing="0.35">0.2</text>
<text x="133.22" y="278.30" font-size="12" text-anchor="middle" fill="#2b2b2b" letter-spacing="0.35">0.2</text>
<text x="171.38" y="136.90" font-size="12" text-anchor="middle" fill="#2b2b2b" letter-spacing="0.35">0.3</text>
<text x="171.38" y="278.30" font-size="12" text-anchor="middle" fill="#2b2b2b" letter-spacing="0.35">0.3</text>
<text x="209.54" y="136.90" font-size="12" text-anchor="middle" fill="#2b2b2b" letter-spacing="0.35">0.4</text>
<text x="209.54" y="278.30" font-size="12" text-anchor="middle" fill="#2b2b2b" letter-spacing="0.35">0.4</text>
<text x="247.70" y="136.90" font-size="12" text-anchor="middle" fill="#2b2b2b" letter-spacing="0.35">0.5</text>
<text x="247.70" y="278.30" font-size="12" text-anchor="middle" fill="#2b2b2b" letter-spacing="0.35">0.5</text>
<text x="54.55" y="9.60" font-size="12" text-anchor="end" fill="#2b2b2b" letter-spacing="0.35">0.5</text>
<text x="54.55" y="42.32" font-size="12" text-anchor="end" fill="#2b2b2b" letter-spacing="0.35">0.0</text>
<text x="54.55" y="75.04" font-size="12" text-anchor="end" fill="#2b2b2b" letter-spacing="0.35">0.5</text>
<line x1="30.90" x2="38.60" y1="71.24" y2="71.24" stroke="#2b2b2b" stroke-width="0.75"/>
<text x="54.55" y="107.77" font-size="12" text-anchor="end" fill="#2b2b2b" letter-spacing="0.35">1.0</text>
<line x1="30.90" x2="38.60" y1="103.97" y2="103.97" stroke="#2b2b2b" stroke-width="0.75"/>
<text x="54.55" y="258.98" font-size="12" text-anchor="end" fill="#2b2b2b" letter-spacing="0.35">0.0</text>
<text x="54.55" y="209.85" font-size="12" text-anchor="end" fill="#2b2b2b" letter-spacing="0.35">0.5</text>
<text x="54.55" y="160.72" font-size="12" text-anchor="end" fill="#2b2b2b" letter-spacing="0.35">1.0</text>
<text x="136.60" y="298.6" font-size="14.5" fill="#2b2b2b" font-style="italic">ω</text>
<text x="145.40" y="300.6" font-size="10" fill="#2b2b2b" font-style="italic">c</text>
<line x1="150.50" y1="301.9" x2="155.90" y2="288.0" stroke="#2b2b2b" stroke-width="0.8"/>
<text x="157.30" y="298.6" font-size="14.5" fill="#2b2b2b" font-style="italic">R</text>
<text x="276.60" y="136.90" font-size="12" text-anchor="middle" fill="#2b2b2b" letter-spacing="0.35">0.0</text>
<text x="276.60" y="278.30" font-size="12" text-anchor="middle" fill="#2b2b2b" letter-spacing="0.35">0.0</text>
<text x="314.76" y="136.90" font-size="12" text-anchor="middle" fill="#2b2b2b" letter-spacing="0.35">0.1</text>
<text x="314.76" y="278.30" font-size="12" text-anchor="middle" fill="#2b2b2b" letter-spacing="0.35">0.1</text>
<text x="352.92" y="136.90" font-size="12" text-anchor="middle" fill="#2b2b2b" letter-spacing="0.35">0.2</text>
<text x="352.92" y="278.30" font-size="12" text-anchor="middle" fill="#2b2b2b" letter-spacing="0.35">0.2</text>
<text x="391.08" y="136.90" font-size="12" text-anchor="middle" fill="#2b2b2b" letter-spacing="0.35">0.3</text>
<text x="391.08" y="278.30" font-size="12" text-anchor="middle" fill="#2b2b2b" letter-spacing="0.35">0.3</text>
<text x="429.24" y="136.90" font-size="12" text-anchor="middle" fill="#2b2b2b" letter-spacing="0.35">0.4</text>
<text x="429.24" y="278.30" font-size="12" text-anchor="middle" fill="#2b2b2b" letter-spacing="0.35">0.4</text>
<text x="467.40" y="136.90" font-size="12" text-anchor="middle" fill="#2b2b2b" letter-spacing="0.35">0.5</text>
<text x="467.40" y="278.30" font-size="12" text-anchor="middle" fill="#2b2b2b" letter-spacing="0.35">0.5</text>
<text x="274.25" y="9.60" font-size="12" text-anchor="end" fill="#2b2b2b" letter-spacing="0.35">0.5</text>
<text x="274.25" y="42.32" font-size="12" text-anchor="end" fill="#2b2b2b" letter-spacing="0.35">0.0</text>
<text x="274.25" y="75.04" font-size="12" text-anchor="end" fill="#2b2b2b" letter-spacing="0.35">0.5</text>
<line x1="250.60" x2="258.30" y1="71.24" y2="71.24" stroke="#2b2b2b" stroke-width="0.75"/>
<text x="274.25" y="107.77" font-size="12" text-anchor="end" fill="#2b2b2b" letter-spacing="0.35">1.0</text>
<line x1="250.60" x2="258.30" y1="103.97" y2="103.97" stroke="#2b2b2b" stroke-width="0.75"/>
<text x="274.25" y="258.98" font-size="12" text-anchor="end" fill="#2b2b2b" letter-spacing="0.35">0.0</text>
<text x="274.25" y="209.85" font-size="12" text-anchor="end" fill="#2b2b2b" letter-spacing="0.35">0.5</text>
<text x="274.25" y="160.72" font-size="12" text-anchor="end" fill="#2b2b2b" letter-spacing="0.35">1.0</text>
<text x="356.30" y="298.6" font-size="14.5" fill="#2b2b2b" font-style="italic">ω</text>
<text x="365.10" y="300.6" font-size="10" fill="#2b2b2b" font-style="italic">c</text>
<line x1="370.20" y1="301.9" x2="375.60" y2="288.0" stroke="#2b2b2b" stroke-width="0.8"/>
<text x="377.00" y="298.6" font-size="14.5" fill="#2b2b2b" font-style="italic">R</text>
<text x="496.30" y="136.90" font-size="12" text-anchor="middle" fill="#2b2b2b" letter-spacing="0.35">0.0</text>
<text x="496.30" y="278.30" font-size="12" text-anchor="middle" fill="#2b2b2b" letter-spacing="0.35">0.0</text>
<text x="534.46" y="136.90" font-size="12" text-anchor="middle" fill="#2b2b2b" letter-spacing="0.35">0.1</text>
<text x="534.46" y="278.30" font-size="12" text-anchor="middle" fill="#2b2b2b" letter-spacing="0.35">0.1</text>
<text x="572.62" y="136.90" font-size="12" text-anchor="middle" fill="#2b2b2b" letter-spacing="0.35">0.2</text>
<text x="572.62" y="278.30" font-size="12" text-anchor="middle" fill="#2b2b2b" letter-spacing="0.35">0.2</text>
<text x="610.78" y="136.90" font-size="12" text-anchor="middle" fill="#2b2b2b" letter-spacing="0.35">0.3</text>
<text x="610.78" y="278.30" font-size="12" text-anchor="middle" fill="#2b2b2b" letter-spacing="0.35">0.3</text>
<text x="648.94" y="136.90" font-size="12" text-anchor="middle" fill="#2b2b2b" letter-spacing="0.35">0.4</text>
<text x="648.94" y="278.30" font-size="12" text-anchor="middle" fill="#2b2b2b" letter-spacing="0.35">0.4</text>
<text x="687.10" y="136.90" font-size="12" text-anchor="middle" fill="#2b2b2b" letter-spacing="0.35">0.5</text>
<text x="687.10" y="278.30" font-size="12" text-anchor="middle" fill="#2b2b2b" letter-spacing="0.35">0.5</text>
<text x="493.95" y="9.60" font-size="12" text-anchor="end" fill="#2b2b2b" letter-spacing="0.35">0.5</text>
<text x="493.95" y="42.32" font-size="12" text-anchor="end" fill="#2b2b2b" letter-spacing="0.35">0.0</text>
<text x="493.95" y="75.04" font-size="12" text-anchor="end" fill="#2b2b2b" letter-spacing="0.35">0.5</text>
<line x1="470.30" x2="478.00" y1="71.24" y2="71.24" stroke="#2b2b2b" stroke-width="0.75"/>
<text x="493.95" y="107.77" font-size="12" text-anchor="end" fill="#2b2b2b" letter-spacing="0.35">1.0</text>
<line x1="470.30" x2="478.00" y1="103.97" y2="103.97" stroke="#2b2b2b" stroke-width="0.75"/>
<text x="493.95" y="258.98" font-size="12" text-anchor="end" fill="#2b2b2b" letter-spacing="0.35">0.0</text>
<text x="493.95" y="209.85" font-size="12" text-anchor="end" fill="#2b2b2b" letter-spacing="0.35">0.5</text>
<text x="493.95" y="160.72" font-size="12" text-anchor="end" fill="#2b2b2b" letter-spacing="0.35">1.0</text>
<text x="576.00" y="298.6" font-size="14.5" fill="#2b2b2b" font-style="italic">ω</text>
<text x="584.80" y="300.6" font-size="10" fill="#2b2b2b" font-style="italic">c</text>
<line x1="589.90" y1="301.9" x2="595.30" y2="288.0" stroke="#2b2b2b" stroke-width="0.8"/>
<text x="596.70" y="298.6" font-size="14.5" fill="#2b2b2b" font-style="italic">R</text>
<text x="223.90" y="27.20" font-size="15.5" text-anchor="middle" fill="#2b2b2b" font-weight="bold">(a)</text>
<text x="443.60" y="27.20" font-size="15.5" text-anchor="middle" fill="#2b2b2b" font-weight="bold">(b)</text>
<text x="663.30" y="27.20" font-size="15.5" text-anchor="middle" fill="#2b2b2b" font-weight="bold">(c)</text>
<text x="80.45" y="168.80" font-size="15.5" text-anchor="middle" fill="#2b2b2b" font-weight="bold">(d)</text>
<text x="300.15" y="168.80" font-size="15.5" text-anchor="middle" fill="#2b2b2b" font-weight="bold">(e)</text>
<text x="519.85" y="168.80" font-size="15.5" text-anchor="middle" fill="#2b2b2b" font-weight="bold">(f)</text>
<g transform="translate(21.6,64) rotate(-90)" font-size="15" fill="#2b2b2b" font-style="italic"><text x="-13.4" y="0">E</text><text x="4.0" y="0">R</text><line x1="-4.0" y1="2.0" x2="1.6" y2="-11.8" stroke="#2b2b2b" stroke-width="0.8"/></g>
<path d="M19.3,214.4H32.8M19.3,202.5H32.8" stroke="#2b2b2b" stroke-width="0.8" fill="none"/>
<text transform="translate(29.3,208.5) rotate(-90)" font-size="14.5" text-anchor="middle" fill="#2b2b2b" font-style="italic">γ</text>
<text transform="translate(23.8,198.7) rotate(-90)" font-size="10" text-anchor="middle" fill="#2b2b2b">2</text>
</svg>
</body></html>
